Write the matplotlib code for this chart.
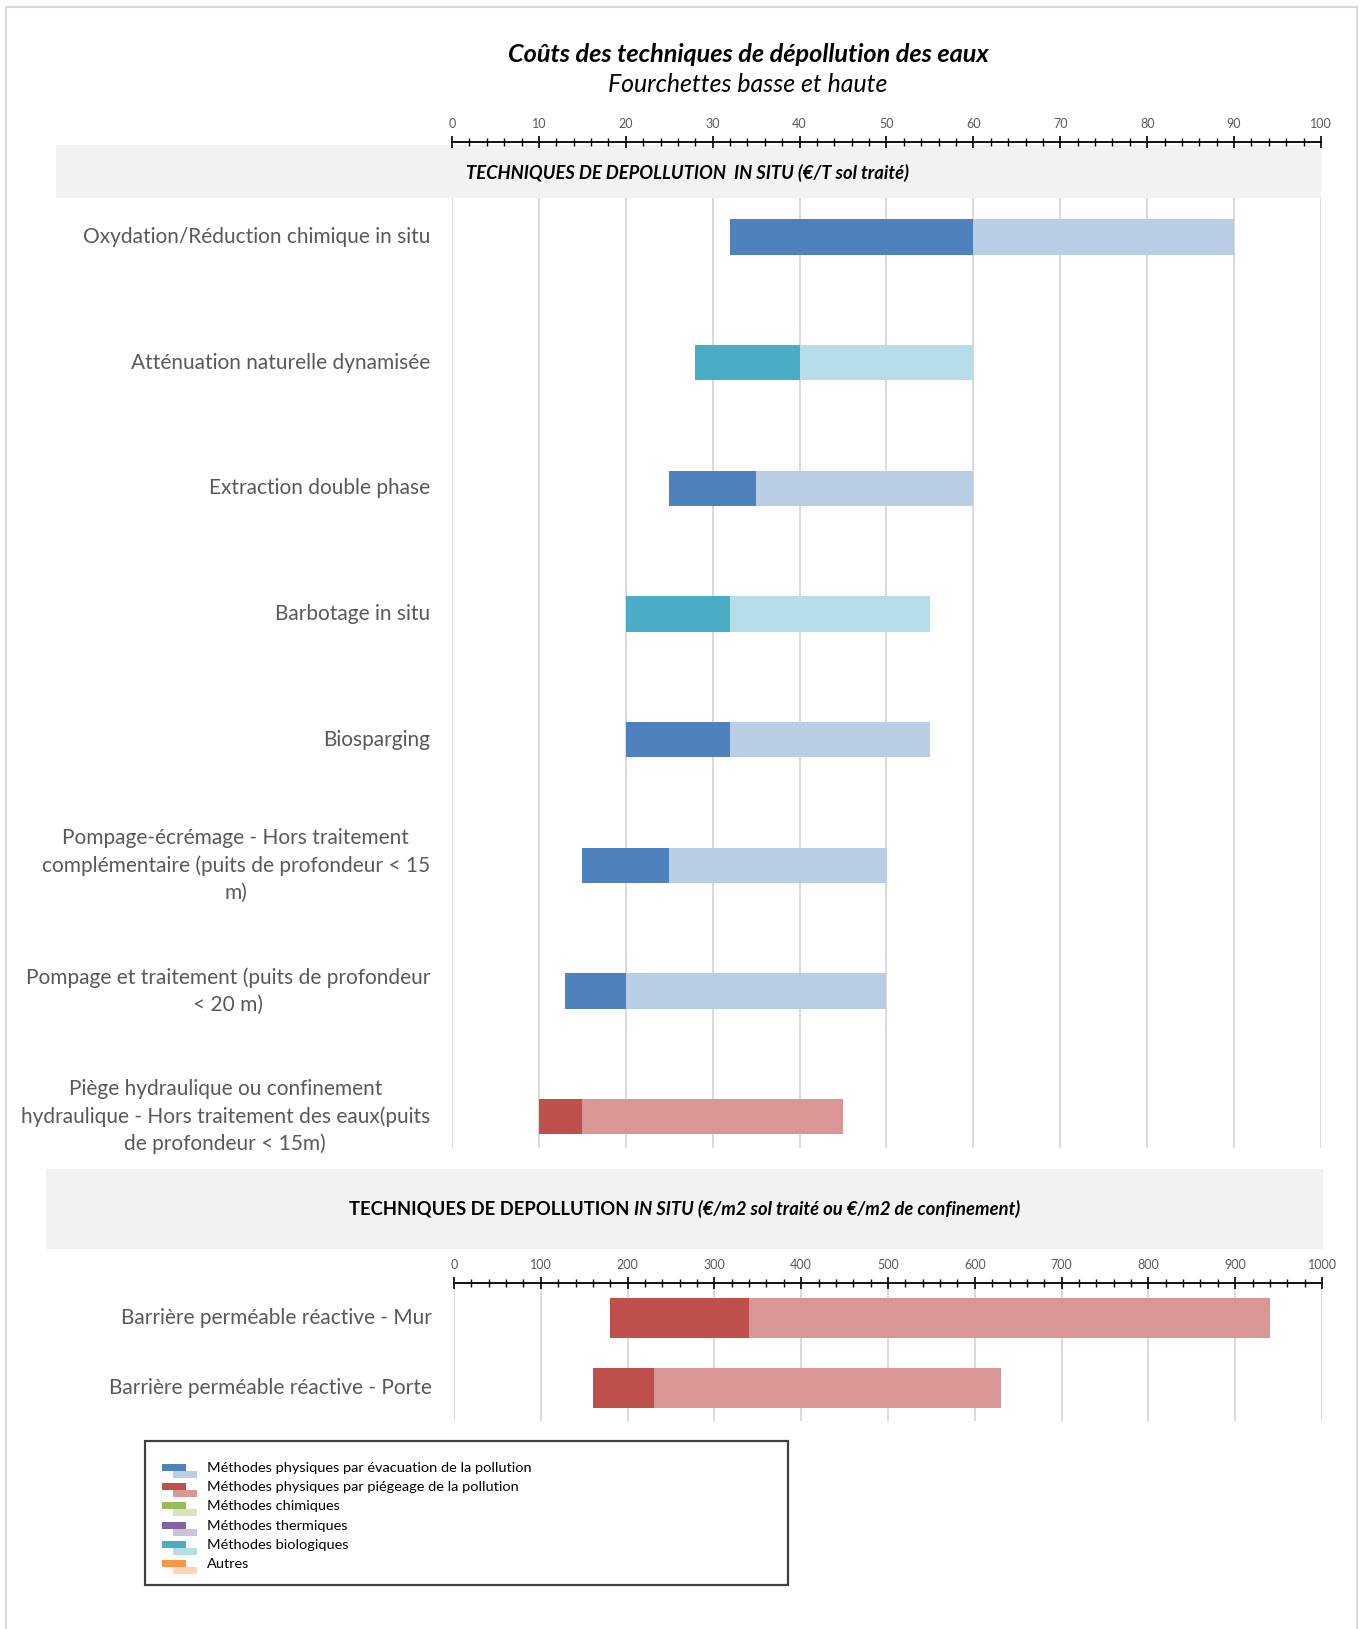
import matplotlib
matplotlib.use('Agg')
import matplotlib.pyplot as plt
from matplotlib.patches import Rectangle
from matplotlib.ticker import MultipleLocator

plt.rcParams['font.family'] = ['Lato', 'DejaVu Sans']

# ---------------- data ----------------
cats_top = [
    "Oxydation/Réduction chimique in situ",
    "Atténuation naturelle dynamisée",
    "Extraction double phase",
    "Barbotage in situ",
    "Biosparging",
    "Pompage-écrémage - Hors traitement\ncomplémentaire (puits de profondeur < 15\nm)",
    "Pompage et traitement (puits de profondeur\n< 20 m)",
    "Piège hydraulique ou confinement\nhydraulique - Hors traitement des eaux(puits\nde profondeur < 15m)",
]
low_top = [32, 28, 25, 20, 20, 15, 13, 10]
mid_top = [60, 40, 35, 32, 32, 25, 20, 15]
high_top = [90, 60, 60, 55, 55, 50, 50, 45]
fam_top = ['evac', 'bio', 'evac', 'bio', 'evac', 'evac', 'evac', 'piege']

cats_bot = ["Barrière perméable réactive - Mur", "Barrière perméable réactive - Porte"]
low_bot = [180, 160]
mid_bot = [340, 230]
high_bot = [940, 630]
fam_bot = ['piege', 'piege']

legend_keys = ['evac', 'piege', 'chim', 'therm', 'bio', 'autre']
legend_labels = [
    "Méthodes physiques par évacuation de la pollution",
    "Méthodes physiques par piégeage de la pollution",
    "Méthodes chimiques",
    "Méthodes thermiques",
    "Méthodes biologiques",
    "Autres",
]

title = "Coûts des techniques de dépollution des eaux"
subtitle = "Fourchettes basse et haute"
band_top = "TECHNIQUES DE DEPOLLUTION  IN SITU (€/T sol traité)"
band_bot_a = "TECHNIQUES DE DEPOLLUTION"
band_bot_b = "IN SITU (€/m2 sol traité ou €/m2 de confinement)"

# ---------------- styles ----------------
dark = {'evac': '#4F81BD', 'piege': '#C0504D', 'chim': '#9BBB59',
        'therm': '#8064A2', 'bio': '#4BACC6', 'autre': '#F79646'}
light = {'evac': '#B9CDE5', 'piege': '#DA9694', 'chim': '#D7E4BD',
         'therm': '#CCC1DA', 'bio': '#B7DEE8', 'autre': '#FCD5B5'}

W, H = 1365, 1629
fig = plt.figure(figsize=(W / 100, H / 100), dpi=100)
fig.patch.set_facecolor('white')


def fr(x0, y0, x1, y1):
    return [x0 / W, 1 - y1 / H, (x1 - x0) / W, (y1 - y0) / H]


def fx(x):
    return x / W


def fy(y):
    return 1 - y / H


def add_rect(x0, y0, x1, y1, **kw):
    r = Rectangle((fx(x0), fy(y1)), (x1 - x0) / W, (y1 - y0) / H,
                  transform=fig.transFigure, **kw)
    fig.add_artist(r)
    return r


# outer frame
add_rect(6, 7, 1357, 1660, facecolor='none', edgecolor='#D9D9D9', lw=1.5, zorder=-5)

# grey bands
add_rect(56, 145, 1321, 198, facecolor='#F2F2F2', edgecolor='none', zorder=-2)
add_rect(46, 1169, 1323, 1249, facecolor='#F2F2F2', edgecolor='none', zorder=-2)

grey = '#595959'


def style_axis(ax, major, minor, outward_px):
    for s in ['left', 'right', 'bottom']:
        ax.spines[s].set_visible(False)
    ax.spines['top'].set_position(('outward', outward_px * 0.72))
    ax.spines['top'].set_linewidth(1.3)
    ax.spines['top'].set_color('black')
    ax.xaxis.tick_top()
    ax.xaxis.set_major_locator(MultipleLocator(major))
    ax.xaxis.set_minor_locator(MultipleLocator(minor))
    ax.tick_params(axis='x', which='major', direction='inout', length=9, width=1.2,
                   color='black', labelcolor=grey, labelsize=9, pad=4)
    ax.tick_params(axis='x', which='minor', direction='inout', length=6, width=1.0,
                   color='black')
    ax.tick_params(axis='y', left=False, labelleft=False)
    ax.grid(axis='x', which='major', color='#D9D9D9', lw=1.4)
    ax.set_axisbelow(True)
    ax.patch.set_alpha(0)


# ---------------- top chart ----------------
ax1 = fig.add_axes(fr(452, 198, 1321, 1148))
ax1.set_xlim(0, 100)
ax1.set_ylim(7.25, -0.31)
y1 = list(range(len(cats_top)))
ax1.barh(y1, [m - l for l, m in zip(low_top, mid_top)], left=low_top, height=0.28,
         color=[dark[f] for f in fam_top], zorder=3)
ax1.barh(y1, [h - m for m, h in zip(mid_top, high_top)], left=mid_top, height=0.28,
         color=[light[f] for f in fam_top], zorder=3)
style_axis(ax1, 10, 2, 198 - 142)

cat_texts = []
xl1 = (430 - 452) / (1321 - 452)
for i, c in enumerate(cats_top):
    t = ax1.text(xl1, i, c, transform=ax1.get_yaxis_transform(), ha='right', va='center',
                 multialignment='center', fontsize=14, color=grey, linespacing=1.42)
    cat_texts.append(t)

# ---------------- bottom chart ----------------
ax2 = fig.add_axes(fr(454, 1283, 1322, 1421))
ax2.set_xlim(0, 1000)
ax2.set_ylim(1.47, -0.5)
y2 = list(range(len(cats_bot)))
ax2.barh(y2, [m - l for l, m in zip(low_bot, mid_bot)], left=low_bot, height=0.565,
         color=[dark[f] for f in fam_bot], zorder=3)
ax2.barh(y2, [h - m for m, h in zip(mid_bot, high_bot)], left=mid_bot, height=0.565,
         color=[light[f] for f in fam_bot], zorder=3)
style_axis(ax2, 100, 20, 0)
xl2 = (432 - 454) / (1322 - 454)
for i, c in enumerate(cats_bot):
    t = ax2.text(xl2, i, c, transform=ax2.get_yaxis_transform(), ha='right', va='center',
                 multialignment='center', fontsize=14, color=grey)
    cat_texts.append(t)

# ---------------- titles ----------------
t_title = fig.text(fx(748), fy(54), title, ha='center', va='center', fontsize=15,
                   fontweight='bold', style='italic', color='black')
t_sub = fig.text(fx(748), fy(85), subtitle, ha='center', va='center', fontsize=15,
                 style='italic', color='black')
t_band1 = fig.text(fx(688), fy(173), band_top, ha='center', va='center', fontsize=11,
                   fontweight='bold', style='italic', color='black')
t_bba = fig.text(fx(300), fy(1209), band_bot_a, ha='left', va='center', fontsize=11,
                 fontweight='bold', color='black')
t_bbb = fig.text(fx(500), fy(1209), band_bot_b, ha='left', va='center', fontsize=11,
                 fontweight='bold', style='italic', color='black')

# ---------------- legend ----------------
add_rect(145, 1441, 788, 1585, facecolor='white', edgecolor='#404040', lw=1.6, zorder=2)
leg_texts = []
for k, (key, lab) in enumerate(zip(legend_keys, legend_labels)):
    yc = 1468 + k * 19.2
    add_rect(162, yc - 4, 186, yc + 3, facecolor=dark[key], edgecolor='none', zorder=4)
    add_rect(173, yc + 3, 197, yc + 10, facecolor=light[key], edgecolor='none', zorder=3)
    t = fig.text(fx(207), fy(yc), lab, ha='left', va='center', fontsize=9.5,
                 color='black', zorder=5)
    leg_texts.append(t)

# ---------------- fit font sizes to the reference widths ----------------
fig.canvas.draw()
r = fig.canvas.get_renderer()


def width(t):
    return t.get_window_extent(r).width


def fit(t, target):
    t.set_fontsize(t.get_fontsize() * target / width(t))


fit(t_title, 483)
fit(t_sub, 280)
fit(t_band1, 443)
s_cat = 349 / width(cat_texts[0])
for t in cat_texts:
    t.set_fontsize(t.get_fontsize() * s_cat)
s_leg = 325 / width(leg_texts[0])
for t in leg_texts:
    t.set_fontsize(t.get_fontsize() * s_leg)

# bottom band two-part text
tot_target = 668
wa, wb = width(t_bba), width(t_bbb)
gap = 0.28 * t_bba.get_fontsize() / 0.72
sc = (tot_target - gap) / (wa + wb)
t_bba.set_fontsize(t_bba.get_fontsize() * sc)
t_bbb.set_fontsize(t_bbb.get_fontsize() * sc)
fig.canvas.draw()
wa, wb = width(t_bba), width(t_bbb)
gap = 0.28 * t_bba.get_fontsize() / 0.72
total = wa + gap + wb
x0 = 684.5 - total / 2
t_bba.set_x(fx(x0))
t_bbb.set_x(fx(x0 + wa + gap))

fig.savefig('out.png', dpi=100, facecolor='white')
